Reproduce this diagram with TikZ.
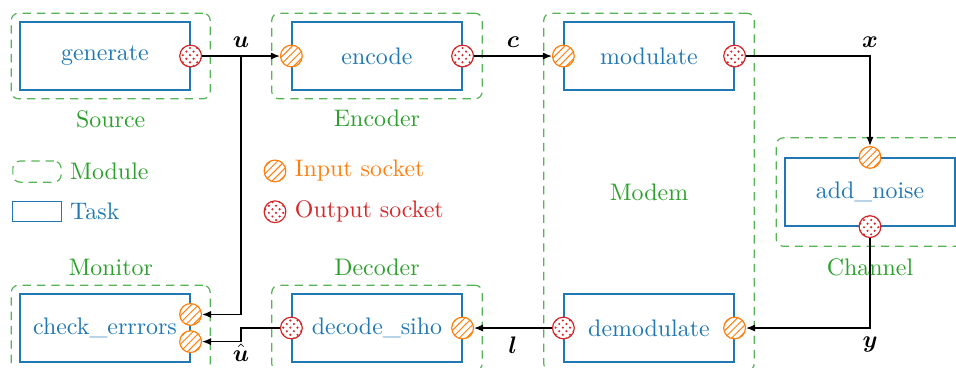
\documentclass[tikz,border=0pt]{standalone}
\usepackage{amsmath}
\usepackage{xcolor}
\usepackage{tikz}
\usetikzlibrary{positioning, fit, calc, arrows.meta, patterns}
\definecolor{bleutache}{RGB}{31, 119, 180}
\definecolor{vertmodule}{RGB}{44, 160, 44}
\definecolor{orangeentree}{RGB}{255, 127, 14}
\definecolor{rougesortie}{RGB}{214, 39, 40}

\begin{document}
\begin{tikzpicture}[
    tache/.style={draw=bleutache, text=bleutache, line width=0.5pt, minimum width=2.5cm, minimum height=1cm},
    module/.style={draw=vertmodule!80, line width=0.5pt, dash pattern=on 3.5pt off 2.5pt, rounded corners=3pt, inner sep=0.12cm},
    nommodule/.style={text=vertmodule},
    entree/.style={circle, draw=orangeentree, line width=0.5pt, minimum size=0.32cm, inner sep=0pt,
      preaction={fill=white}, pattern=north east lines, pattern color=orangeentree},
    sortie/.style={circle, draw=rougesortie, line width=0.5pt, minimum size=0.32cm, inner sep=0pt,
      preaction={fill=white}, pattern=crosshatch dots, pattern color=rougesortie},
    lien/.style={-{Latex[length=3.8pt, width=3pt]}, line width=0.5pt},
  ]
    \clip (-1.544,0.824) rectangle (12.515,-4.574);

    % taches
    \node[tache] (gen) at (0,0) {generate};
    \node[tache] (enc) at (4,0) {encode};
    \node[tache] (mod) at (8,0) {modulate};
    \node[tache] (noise) at (11.25,-2) {add\_noise};
    \node[tache] (demod) at (8,-4) {demodulate};
    \node[tache] (dec) at (4,-4) {decode\_siho};
    \node[tache] (chk) at (0,-4) {check\_errrors};

    % sockets
    \node[sortie] (gen-out) at (gen.east) {};
    \node[entree] (enc-in) at (enc.west) {};
    \node[sortie] (enc-out) at (enc.east) {};
    \node[entree] (mod-in) at (mod.west) {};
    \node[sortie] (mod-out) at (mod.east) {};
    \node[entree] (noise-in) at (noise.north) {};
    \node[sortie] (noise-out) at (noise.south) {};
    \node[entree] (demod-in) at (demod.east) {};
    \node[sortie] (demod-out) at (demod.west) {};
    \node[entree] (dec-in) at (dec.east) {};
    \node[sortie] (dec-out) at (dec.west) {};
    \node[entree] (chk-in1) at ($(chk.east)+(0,0.2)$) {};
    \node[entree] (chk-in2) at ($(chk.east)+(0,-0.2)$) {};

    % modules
    \node[module, fit=(gen)(gen-out)] (source) {};
    \node[nommodule, below=1pt of source] (source-nom) {Source};
    \node[module, fit=(enc)(enc-in)(enc-out)] (encoder) {};
    \node[nommodule, below=1pt of encoder] (encoder-nom) {Encoder};
    \node[module, fit=(mod)(mod-in)(mod-out)(demod)(demod-in)(demod-out)] (modem) {};
    \node[nommodule] (modem-nom) at (modem.center) {Modem};
    \node[module, fit=(noise)(noise-in)(noise-out)] (channel) {};
    \node[nommodule, below=1.5pt of channel] (channel-nom) {Channel};
    \node[module, fit=(dec)(dec-in)(dec-out)] (decoder) {};
    \node[nommodule, above=0pt of decoder] (decoder-nom) {Decoder};
    \node[module, fit=(chk)(chk-in1)(chk-in2)] (monitor) {};
    \node[nommodule, above=0pt of monitor] (monitor-nom) {Monitor};

    % legende
    \node[module, minimum width=0.71cm, minimum height=0.31cm, inner sep=0pt] (leg-module) at (-1,-1.7) {};
    \node[nommodule, right=0pt of leg-module] (leg-module-nom) {Module};
    \node[tache, minimum width=0.71cm, minimum height=0.29cm] (leg-tache) at (-1,-2.29) {};
    \node[text=bleutache, right=0pt of leg-tache] (leg-tache-nom) {Task};
    \node[entree] (leg-entree) at (2.5,-1.69) {};
    \node[text=orangeentree, right=0pt of leg-entree] (leg-entree-nom) {Input socket};
    \node[sortie] (leg-sortie) at (2.5,-2.29) {};
    \node[text=rougesortie, right=0pt of leg-sortie] (leg-sortie-nom) {Output socket};

    % liens
    \draw[lien] (gen-out.east) -- node[above] {$\boldsymbol{u}$} (enc-in.west);
    \coordinate (u-split) at ($(gen-out.east)!0.5!(enc-in.west)$);
    \draw[lien] (u-split) |- (chk-in1.east);
    \draw[lien] (enc-out.east) -- node[above] {$\boldsymbol{c}$} (mod-in.west);
    \draw[lien] (mod-out.east) -| node[pos=0.5, above] {$\boldsymbol{x}$} (noise-in.north);
    \draw[lien] (noise-out.south) |- node[pos=0.5, below] {$\boldsymbol{y}$} (demod-in.east);
    \draw[lien] (demod-out.west) -- node[below] {$\boldsymbol{l}$} (dec-in.east);
    \coordinate (uhat-split) at (u-split |- dec-out.west);
    \draw[lien] (dec-out.west) -- (uhat-split) |- node[pos=0.5, below, inner sep=0.8pt] {$\hat{\boldsymbol{u}}$} (chk-in2.east);
  \end{tikzpicture}
\end{document}
